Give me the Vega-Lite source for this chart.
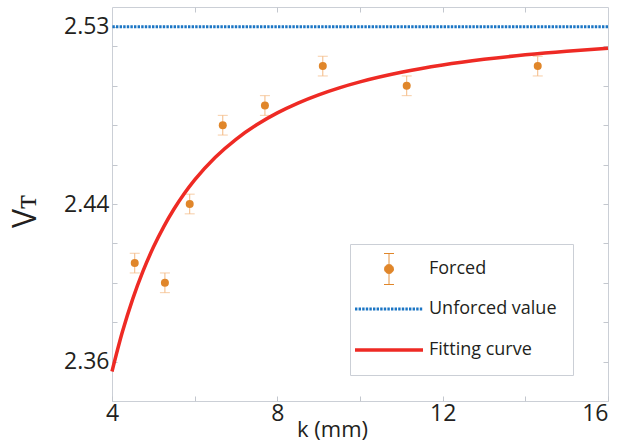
{
  "$schema": "https://vega.github.io/schema/vega-lite/v6.json",
  "width": 496,
  "height": 394,
  "autosize": {"type": "none"},
  "padding": {"left": 112, "top": 7, "right": 12, "bottom": 46},
  "background": "white",
  "config": {
    "view": {"stroke": "#CBCFD6", "strokeWidth": 1},
    "font": "Open Sans",
    "axis": {
      "domain": false, "grid": false,
      "tickColor": "#C3C7CE", "tickSize": -5, "tickWidth": 1,
      "labelFont": "Open Sans", "labelColor": "#231F20", "labelFlush": false,
      "titleFont": "Open Sans", "titleColor": "#231F20", "titleFontWeight": "normal"
    }
  },
  "datasets": {
    "forced": [
      {"k": 4.55, "v": 2.410, "lo": 2.405, "hi": 2.415, "series": "Forced"},
      {"k": 5.28, "v": 2.400, "lo": 2.395, "hi": 2.405, "series": "Forced"},
      {"k": 5.88, "v": 2.440, "lo": 2.435, "hi": 2.445, "series": "Forced"},
      {"k": 6.68, "v": 2.480, "lo": 2.475, "hi": 2.485, "series": "Forced"},
      {"k": 7.70, "v": 2.490, "lo": 2.485, "hi": 2.495, "series": "Forced"},
      {"k": 9.10, "v": 2.510, "lo": 2.505, "hi": 2.515, "series": "Forced"},
      {"k": 11.13, "v": 2.500, "lo": 2.495, "hi": 2.505, "series": "Forced"},
      {"k": 14.30, "v": 2.510, "lo": 2.505, "hi": 2.515, "series": "Forced"}
    ],
    "unforced": [
      {"v": 2.53, "series": "Unforced value"}
    ],
    "fit": [
      {"k": 4.0, "v": 2.35500, "series": "Fitting curve"},
      {"k": 4.25, "v": 2.37498, "series": "Fitting curve"},
      {"k": 4.5, "v": 2.39173, "series": "Fitting curve"},
      {"k": 4.75, "v": 2.40590, "series": "Fitting curve"},
      {"k": 5.0, "v": 2.41800, "series": "Fitting curve"},
      {"k": 5.25, "v": 2.42841, "series": "Fitting curve"},
      {"k": 5.5, "v": 2.43744, "series": "Fitting curve"},
      {"k": 5.75, "v": 2.44531, "series": "Fitting curve"},
      {"k": 6.0, "v": 2.45222, "series": "Fitting curve"},
      {"k": 6.5, "v": 2.46373, "series": "Fitting curve"},
      {"k": 7.0, "v": 2.47286, "series": "Fitting curve"},
      {"k": 7.5, "v": 2.48022, "series": "Fitting curve"},
      {"k": 8.0, "v": 2.48625, "series": "Fitting curve"},
      {"k": 8.5, "v": 2.49125, "series": "Fitting curve"},
      {"k": 9.0, "v": 2.49543, "series": "Fitting curve"},
      {"k": 9.5, "v": 2.49898, "series": "Fitting curve"},
      {"k": 10.0, "v": 2.50200, "series": "Fitting curve"},
      {"k": 11.0, "v": 2.50686, "series": "Fitting curve"},
      {"k": 12.0, "v": 2.51056, "series": "Fitting curve"},
      {"k": 13.0, "v": 2.51343, "series": "Fitting curve"},
      {"k": 14.0, "v": 2.51571, "series": "Fitting curve"},
      {"k": 15.0, "v": 2.51756, "series": "Fitting curve"},
      {"k": 16.0, "v": 2.51906, "series": "Fitting curve"}
    ]
  },
  "layer": [
    {
      "layer": [
        {
          "data": {"name": "unforced"},
          "mark": {"type": "rule", "strokeWidth": 3, "strokeDash": [2.4, 1.2]},
          "encoding": {
            "y": {"field": "v", "type": "quantitative", "title": "Vᴛ",
                  "scale": {"domain": [2.34, 2.54], "nice": false, "zero": false},
                  "axis": {
                    "values": [2.36, 2.38, 2.40, 2.42, 2.44, 2.46, 2.48, 2.50, 2.52, 2.53],
                    "labelExpr": "datum.value == 2.36 || datum.value == 2.44 || datum.value == 2.53 ? format(datum.value, '.2f') : ''",
                    "labelFontSize": 23, "labelPadding": 8,
                    "title": "Vᴛ", "titleFontSize": 32, "titleAngle": -90,
                    "titleX": -77, "titleY": 204, "titleAlign": "center", "titleBaseline": "alphabetic"
                  }},
            "color": {"field": "series", "type": "nominal",
                      "scale": {"domain": ["Forced", "Unforced value", "Fitting curve"],
                                "range": ["#E0862A", "#1B75C4", "#EE2A24"]},
                      "legend": {
                        "title": null, "orient": "none", "legendX": 238, "legendY": 237,
                        "direction": "vertical",
                        "strokeColor": "#CBCFD6", "fillColor": "white", "padding": 16,
                        "symbolSize": 400, "symbolStrokeWidth": 1,
                        "rowPadding": 4, "symbolOffset": 14,
                        "labelFont": "Open Sans", "labelFontSize": 18, "labelColor": "#231F20",
                        "labelOffset": 31, "labelLimit": 300,
                        "encode": {
                          "symbols": {
                            "update": {
                              "size": {"value": 400},
                              "shape": {"signal": "datum.value === 'Forced' ? 'M0.45,0 C0.45,0.248 0.248,0.45 0,0.45 C-0.248,0.45 -0.45,0.248 -0.45,0 C-0.45,-0.248 -0.248,-0.45 0,-0.45 C0.248,-0.45 0.45,-0.248 0.45,0 Z M0,-0.45 L0,-1.55 M-0.5,-1.55 L0.5,-1.55 M0,0.45 L0,1.55 M-0.5,1.55 L0.5,1.55' : (datum.value === 'Unforced value' ? 'M0,-1.2 M0,1.2 M-3.4,0 L3.4,0' : 'M0,-1.2 M0,0.1 M-3.4,0 L3.4,0')"},
                              "fill": {"signal": "datum.value === 'Forced' ? '#E0862A' : 'transparent'"},
                              "stroke": {"signal": "datum.value === 'Forced' ? '#F4B880' : (datum.value === 'Unforced value' ? '#1B75C4' : '#EE2A24')"},
                              "strokeWidth": {"signal": "datum.value === 'Forced' ? 1 : (datum.value === 'Unforced value' ? 3 : 3.5)"},
                              "strokeDash": {"signal": "datum.value === 'Unforced value' ? [2.4, 1.2] : [1, 0]"},
                              "opacity": {"value": 1}
                            }
                          }
                        }
                      }}
          }
        },
        {
          "data": {"name": "forced"},
          "mark": {"type": "errorbar", "color": "#F4B880", "thickness": 1, "ticks": {"size": 10, "color": "#F4B880", "thickness": 1}},
          "encoding": {
            "x": {"field": "k", "type": "quantitative", "title": "k (mm)",
                  "scale": {"domain": [4, 16], "nice": false, "zero": false},
                  "axis": {
                    "values": [4, 6, 8, 10, 12, 14, 16],
                    "labelExpr": "datum.value % 4 == 0 ? format(datum.value, 'd') : ''",
                    "labelFontSize": 23, "labelPadding": 6,
                    "labelAlign": {"condition": {"test": "datum.value == 16", "value": "right"}, "value": "center"},
                    "title": "k (mm)", "titleFontSize": 22,
                    "titleX": 220, "titleY": 35, "titleAlign": "center", "titleBaseline": "alphabetic"
                  }},
            "y": {"field": "lo", "type": "quantitative", "title": "Vᴛ"},
            "y2": {"field": "hi"}
          }
        },
        {
          "data": {"name": "forced"},
          "mark": {"type": "point", "filled": true, "size": 64, "opacity": 1},
          "encoding": {
            "x": {"field": "k", "type": "quantitative", "title": "k (mm)"},
            "y": {"field": "v", "type": "quantitative", "title": "Vᴛ"},
            "color": {"field": "series", "type": "nominal"}
          }
        }
      ]
    },
    {
      "data": {"name": "fit"},
      "mark": {"type": "line", "strokeWidth": 3.5, "interpolate": "monotone"},
      "encoding": {
        "x": {"field": "k", "type": "quantitative",
              "scale": {"domain": [4, 16], "nice": false, "zero": false},
              "axis": {"orient": "top", "values": [6, 8, 10, 12, 14], "labels": false, "title": null}},
        "y": {"field": "v", "type": "quantitative",
              "scale": {"domain": [2.34, 2.54], "nice": false, "zero": false},
              "axis": {"orient": "right", "values": [2.36, 2.38, 2.40, 2.42, 2.44, 2.46, 2.48, 2.50, 2.52], "labels": false, "title": null}},
        "color": {"field": "series", "type": "nominal"}
      }
    }
  ],
  "resolve": {"axis": {"x": "independent", "y": "independent"}}
}
